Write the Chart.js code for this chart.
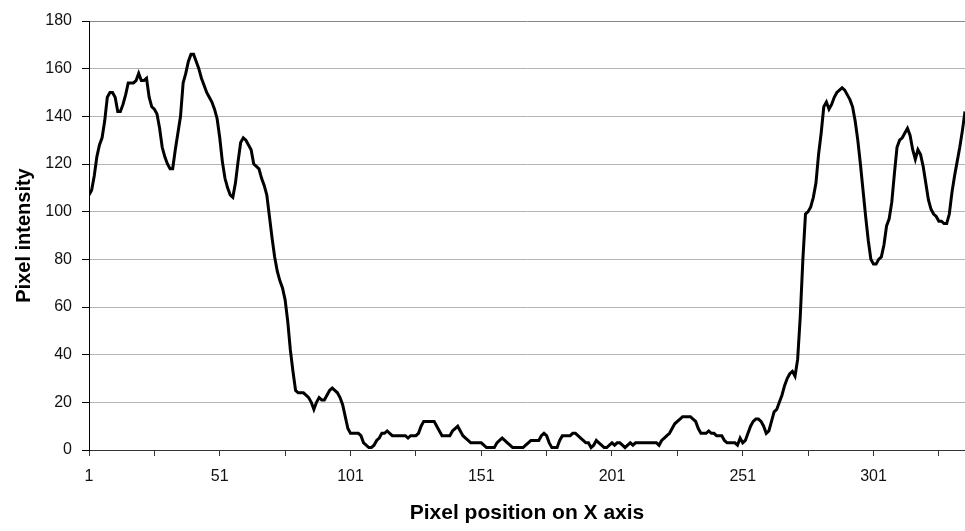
<!DOCTYPE html>
<html>
<head>
<meta charset="utf-8">
<script src="https://cdn.jsdelivr.net/npm/chart.js@4"></script>
<style>
  html, body { margin: 0; padding: 0; background: #fff; }
  #wrap { width: 965px; height: 531px; }
</style>
</head>
<body>
<div id="wrap"><canvas id="c" width="965" height="531"></canvas></div>
<script>
// Intensity profile along one scan line, one value per pixel column (1..336)
const intensity = [
  107,109,115,123,128,131,138,148,150,150,148,142,142,145,149,154,154,154,155,158,
  155,155,156,148,144,143,141,135,127,123,120,118,118,126,133,140,154,158,163,166,
  166,163,160,156,153,150,148,146,143,139,131,121,114,110,107,106,112,121,129,131,
  130,128,126,120,119,118,114,111,107,98,89,81,75,71,68,63,54,42,33,25,
  24,24,24,23,22,20,17,20,22,21,21,23,25,26,25,24,22,19,14,9,
  7,7,7,7,6,3,2,1,1,2,4,5,7,7,8,7,6,6,6,6,
  6,6,5,6,6,6,7,10,12,12,12,12,12,10,8,6,6,6,6,8,
  9,10,8,6,5,4,3,3,3,3,3,2,1,1,1,1,3,4,5,4,
  3,2,1,1,1,1,1,2,3,4,4,4,4,6,7,6,3,1,1,1,
  4,6,6,6,6,7,7,6,5,4,3,3,1,2,4,3,2,1,1,2,
  3,2,3,3,2,1,2,3,2,3,3,3,3,3,3,3,3,3,2,4,
  5,6,7,9,11,12,13,14,14,14,14,13,12,9,7,7,7,8,7,7,
  6,6,6,4,3,3,3,3,2,5,3,4,7,10,12,13,13,12,10,7,
  8,12,16,17,20,23,27,30,32,33,31,38,56,80,99,100,102,106,112,124,
  133,144,146,143,145,148,150,151,152,151,149,147,144,138,130,120,109,98,88,80,
  78,78,80,81,86,94,97,104,116,127,130,131,133,135,132,126,122,126,124,119,
  112,105,101,99,98,96,96,95,95,99,108,115,121,127,134,142
];

// Axis ticks
const xTickPositions = [1, 26, 51, 76, 101, 126, 151, 176, 201, 226, 251, 276, 301, 326];
const xTickLabels = ['1', '51', '101', '151', '201', '251', '301'];
const yTickValues = [0, 20, 40, 60, 80, 100, 120, 140, 160, 180];

const xTitle = 'Pixel position on X axis';
const yTitle = 'Pixel intensity';

Chart.defaults.font.family = '"Liberation Sans", Arial, sans-serif';

new Chart(document.getElementById('c').getContext('2d'), {
  type: 'line',
  data: {
    datasets: [{
      data: intensity.map((v, i) => ({ x: i + 1, y: v })),
      borderColor: '#000',
      borderWidth: 3,
      pointRadius: 0,
      tension: 0,
      fill: false
    }]
  },
  options: {
    responsive: false,
    animation: false,
    layout: { padding: { top: 21, right: 0, left: 0, bottom: 0 } },
    plugins: { legend: { display: false }, tooltip: { enabled: false } },
    scales: {
      x: {
        type: 'linear',
        min: 1,
        max: intensity.length,
        afterBuildTicks: s => { s.ticks = xTickPositions.map(v => ({ value: v })); },
        afterFit: s => { s.height = 81; },
        grid: { drawOnChartArea: false, drawTicks: true, tickLength: 6, tickColor: '#333' },
        border: { color: '#333', width: 1 },
        ticks: {
          autoSkip: false,
          maxRotation: 0,
          padding: 11,
          color: '#111',
          font: { size: 16 },
          callback: v => xTickLabels.includes(String(v)) ? String(v) : ''
        },
        title: {
          display: true,
          text: xTitle,
          color: '#000',
          font: { size: 21, weight: 'bold' },
          padding: { top: 0, bottom: 5 }
        }
      },
      y: {
        min: 0,
        max: 180,
        afterBuildTicks: s => { s.ticks = yTickValues.map(v => ({ value: v })); },
        afterFit: s => { s.width = 89; },
        grid: {
          color: c => (c.tick && c.tick.value === 180) ? '#888' : '#b4b4b4',
          drawTicks: true,
          tickLength: 7,
          tickColor: '#000'
        },
        border: { color: '#000', width: 1 },
        ticks: { padding: 10, color: '#111', font: { size: 16 } },
        title: {
          display: true,
          text: yTitle,
          color: '#000',
          font: { size: 20, weight: 'bold' },
          padding: { top: 12, bottom: 0 }
        }
      }
    }
  }
});
</script>
</body>
</html>
